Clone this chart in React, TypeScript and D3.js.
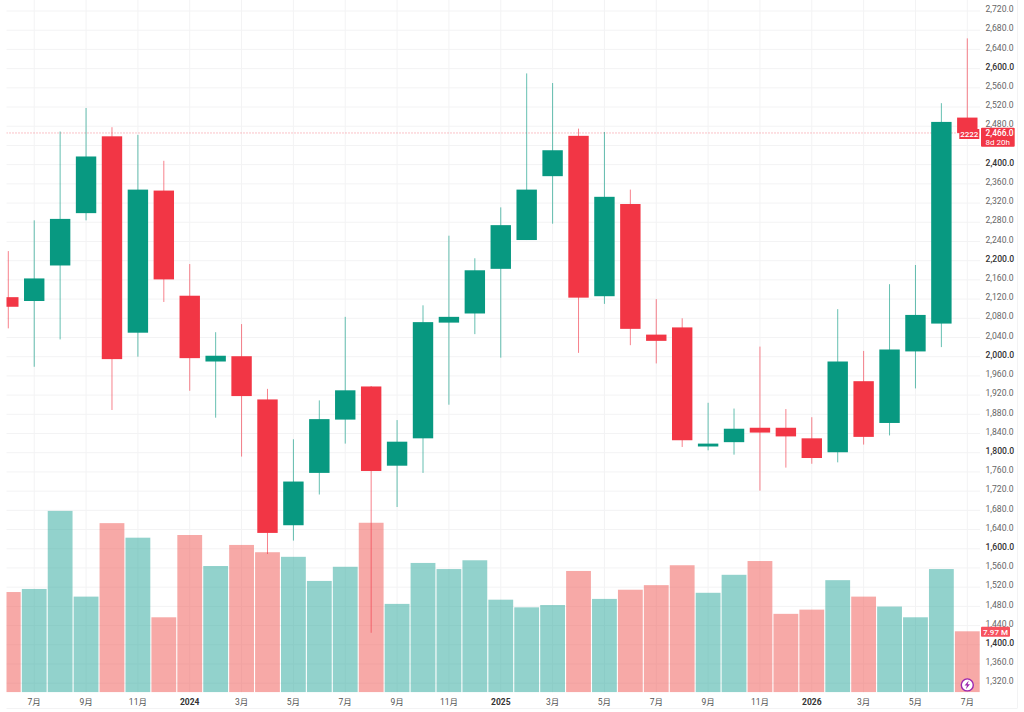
import React from 'react';
import * as d3 from 'd3';

// months run 2023-06 .. 2026-07
const months = [
  '2023-06', '2023-07', '2023-08', '2023-09', '2023-10', '2023-11', '2023-12',
  '2024-01', '2024-02', '2024-03', '2024-04', '2024-05', '2024-06', '2024-07', '2024-08', '2024-09', '2024-10', '2024-11', '2024-12',
  '2025-01', '2025-02', '2025-03', '2025-04', '2025-05', '2025-06', '2025-07', '2025-08', '2025-09', '2025-10', '2025-11', '2025-12',
  '2026-01', '2026-02', '2026-03', '2026-04', '2026-05', '2026-06', '2026-07',
];
const highs = [2220, 2284, 2469, 2518, 2478, 2462, 2408, 2193, 2051, 2068, 1933, 1828, 1909, 2083, 1939, 1868, 2107, 2252, 2205, 2311, 2590, 2570, 2475, 2468, 2348, 2120, 2080, 1904, 1892, 2021, 1891, 1874, 2099, 2012, 2151, 2191, 2528, 2663];
const lows = [2059, 1979, 2036, 2284, 1889, 2000, 2114, 1929, 1873, 1792, 1589, 1617, 1713, 1819, 1425, 1687, 1758, 1900, 2047, 1998, 2243, 2277, 2008, 2110, 2024, 1986, 1812, 1805, 1796, 1721, 1769, 1777, 1780, 1817, 1836, 1934, 2020, 2466];
// body top / bottom edges, colour comes from isDown
const bodyTops = [2124, 2163, 2287, 2417, 2459, 2348, 2346, 2127, 2002, 2001, 1911, 1740, 1870, 1930, 1938, 1823, 2072, 2083, 2180, 2274, 2348, 2430, 2460, 2333, 2318, 2046, 2061, 1819, 1850, 1852, 1852, 1830, 1990, 1949, 2015, 2087, 2489, 2498];
const bodyBottoms = [2104, 2116, 2190, 2299, 1995, 2050, 2161, 1997, 1990, 1918, 1633, 1649, 1758, 1869, 1762, 1773, 1830, 2071, 2090, 2183, 2243, 2376, 2123, 2126, 2058, 2033, 1826, 1813, 1822, 1842, 1834, 1789, 1801, 1833, 1862, 2011, 2069, 2466];
const isDown = [1, 0, 0, 0, 1, 0, 1, 1, 0, 1, 1, 0, 0, 0, 1, 0, 0, 0, 0, 0, 0, 0, 1, 0, 1, 1, 1, 0, 0, 1, 1, 1, 0, 1, 0, 0, 0, 1];
// volume in millions
const volumes = [13.1, 13.5, 23.7, 12.5, 22.1, 20.2, 9.8, 20.55, 16.5, 19.25, 18.3, 17.7, 14.55, 16.4, 22.15, 11.55, 16.9, 16.1, 17.25, 12.1, 11.1, 11.4, 15.85, 12.2, 13.4, 14, 16.6, 13, 15.35, 17.15, 10.25, 10.8, 14.65, 12.5, 11.2, 9.8, 16.1, 7.97];

const lastClose = 2466;
const priceTicks = d3.range(1320, 2721, 40);
const monthLabels: Record<string, string> = { '01': '', '03': '3月', '05': '5月', '07': '7月', '09': '9月', '11': '11月' };

const UP = '#089981';
const DOWN = '#f23645';
const VOL_UP = 'rgba(38,166,154,0.5)';
const VOL_DOWN = 'rgba(239,83,80,0.5)';
const FONT = 'Roboto, "Noto Sans CJK SC", sans-serif';

const LEFT = 6.5;
const RIGHT = 980;
const BASE = 692.3;

const x = d3.scalePoint<string>().domain(months).range([8.3, 967.3]);
const y = d3.scaleLinear().domain([1320, 2720]).range([683.2, 11]);
const yVol = d3.scaleLinear().domain([0, 24]).range([BASE, 508.6]);
const fmt = d3.format(',.1f');

const bodyW = 20.4;
const volW = 24.8;

const tickMonths = months.filter((m) => monthLabels[m.slice(5)] !== undefined);
const tickText = (m: string) => (m.endsWith('-01') ? m.slice(0, 4) : monthLabels[m.slice(5)]);

const App: React.FC = () => {
  return (
    <svg
      width={1024}
      height={712}
      style={{ position: 'absolute', left: 0, top: 0, background: '#fff', fontFamily: FONT }}
    >
      <defs>
        <clipPath id="plot">
          <rect x={LEFT} y={0} width={RIGHT - LEFT} height={BASE} />
        </clipPath>
      </defs>

      {/* Grid */}
      {priceTicks.map((p) => (
        <line key={p} x1={LEFT} x2={RIGHT} y1={y(p)} y2={y(p)} stroke="#f3f3f4" />
      ))}
      {tickMonths.map((m) => (
        <line key={m} x1={x(m)} x2={x(m)} y1={0} y2={BASE} stroke="#f3f3f4" />
      ))}
      <line x1={LEFT} x2={1017} y1={708.5} y2={708.5} stroke="#f3f3f4" />
      <line x1={1017.5} x2={1017.5} y1={0} y2={708.5} stroke="#f3f3f4" />

      <g clipPath="url(#plot)">
        {/* Volume */}
        {months.map((m, i) => (
          <rect
            key={m}
            x={x(m)! - volW / 2}
            y={yVol(volumes[i])}
            width={volW}
            height={BASE - yVol(volumes[i])}
            fill={isDown[i] ? VOL_DOWN : VOL_UP}
          />
        ))}

        {/* Last price line */}
        <line
          x1={LEFT}
          x2={RIGHT}
          y1={y(lastClose)}
          y2={y(lastClose)}
          stroke={DOWN}
          strokeOpacity={0.6}
          strokeDasharray="1 2"
        />

        {/* Candles */}
        {months.map((m, i) => (
          <g key={m} fill={isDown[i] ? DOWN : UP} stroke={isDown[i] ? DOWN : UP}>
            <line x1={x(m)} x2={x(m)} y1={y(highs[i])} y2={y(lows[i])} strokeOpacity={0.62} strokeWidth={1} />
            <rect
              x={x(m)! - bodyW / 2}
              y={y(bodyTops[i])}
              width={bodyW}
              height={y(bodyBottoms[i]) - y(bodyTops[i])}
              stroke="none"
            />
          </g>
        ))}
      </g>

      {/* Time axis */}
      {tickMonths.map((m) => (
        <text
          key={m}
          x={x(m)}
          y={705}
          textAnchor="middle"
          fontSize={8.5}
          fontWeight={m.endsWith('-01') ? 700 : 400}
          fill={m.endsWith('-01') ? '#333' : '#555'}
        >
          {tickText(m)}
        </text>
      ))}

      {/* Price axis, 2,440 sits under the last price label */}
      {priceTicks.filter((p) => p !== 2440).map((p) => (
        <text
          key={p}
          x={985.5}
          y={y(p) + 1.2}
          fontSize={8.6}
          fontWeight={p % 200 === 0 ? 500 : 400}
          fill={p % 200 === 0 ? '#333' : '#666'}
        >
          {fmt(p)}
        </text>
      ))}

      {/* Last price labels */}
      <rect x={959.3} y={129} width={20} height={10} fill={DOWN} />
      <text x={969.3} y={137} textAnchor="middle" fontSize={8} fontWeight={500} fill="#fff">2222</text>
      <rect x={981} y={127.7} width={33.7} height={19} rx={1} fill={DOWN} />
      <text x={985.5} y={136.2} fontSize={8.4} fontWeight={500} fill="#fff">{fmt(lastClose)}</text>
      <text x={985.5} y={145} fontSize={8} fill="#fff">8d 20h</text>

      {/* Volume label */}
      <rect x={981} y={626.7} width={29} height={10} rx={1} fill="#f7525f" />
      <text x={995.5} y={634.8} textAnchor="middle" fontSize={8} fontWeight={500} fill="#fff">7.97 M</text>

      {/* Flash icon */}
      <circle cx={967.3} cy={684.9} r={6} fill="#fff" stroke="#9c27b0" strokeWidth={1.4} />
      <path d="M968.8 680.5 L964.6 685.5 L967 685.5 L965.8 689.3 L970 684.2 L967.6 684.2 Z" fill="#9c27b0" />
    </svg>
  );
};

export default App;
